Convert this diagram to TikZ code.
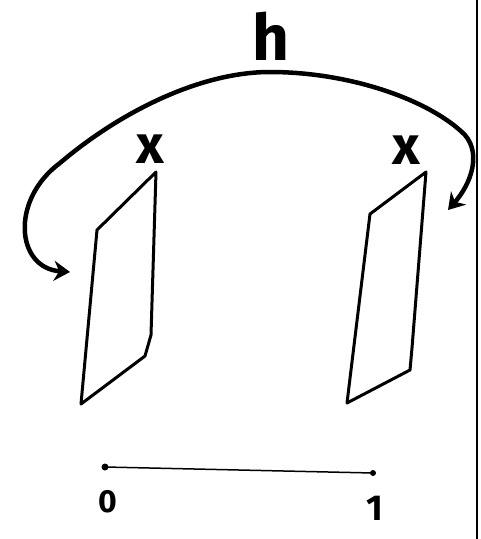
\documentclass[tikz,border=0pt]{standalone}
\usepackage{fontspec}
\setsansfont{Fira Sans}
\usetikzlibrary{arrows.meta}
\begin{document}
\begin{tikzpicture}[x=1pt,y=-1pt,
  pen/.style={line width=3pt,line join=round,line cap=round},
  bold/.style={line width=4.5pt,line cap=round,line join=round},
  lbl/.style={font=\sffamily\bfseries,inner sep=0pt}]
\useasboundingbox (0,0) rectangle (481,539);
% right border
\draw[line width=1.5pt] (477,0) -- (477,539);
% left quad
\coordinate (la) at (156,172);
\coordinate (lb) at (97,230);
\coordinate (lc) at (81,404);
\coordinate (ld) at (145,356);
\coordinate (le) at (151,335);
\draw[pen] (la) -- (lb) -- (lc) -- (ld) -- (le) -- cycle;
% right quad
\coordinate (ra) at (426,172);
\coordinate (rb) at (370,214);
\coordinate (rc) at (347,403);
\coordinate (rd) at (410,370);
\coordinate (re) at (412,348);
\draw[pen] (ra) -- (rb) -- (rc) -- (rd) -- (re) -- cycle;
% crosses
\node[lbl] (xl) at (150,149) {\fontsize{54}{56}\selectfont x};
\node[lbl] (xr) at (406,150) {\fontsize{54}{56}\selectfont x};
% h label
\node[lbl] (h) at (271,36) {\fontsize{64}{68}\selectfont h};
% arc
\coordinate (s) at (70,272);
\coordinate (t) at (448,210);
\draw[bold,{Stealth[length=16pt,width=20pt]}-{Stealth[length=16pt,width=20pt]}]
  (s) .. controls (16,268) and (10,200) .. (60,163)
      .. controls (120,112) and (200,72) .. (270,72)
      .. controls (350,72) and (430,100) .. (465,135)
      .. controls (482,155) and (470,185) .. (t);
% unit segment
\coordinate (z) at (105,467);
\coordinate (o) at (373,473);
\draw[line width=1.5pt] (z) -- (o);
\fill (z) circle (3.5pt);
\fill (o) circle (3pt);
\node[lbl] (n0) at (108,502) {\fontsize{32}{34}\selectfont 0};
\node[lbl] (n1) at (375,508) {\fontsize{36}{38}\selectfont 1};
\end{tikzpicture}
\end{document}
